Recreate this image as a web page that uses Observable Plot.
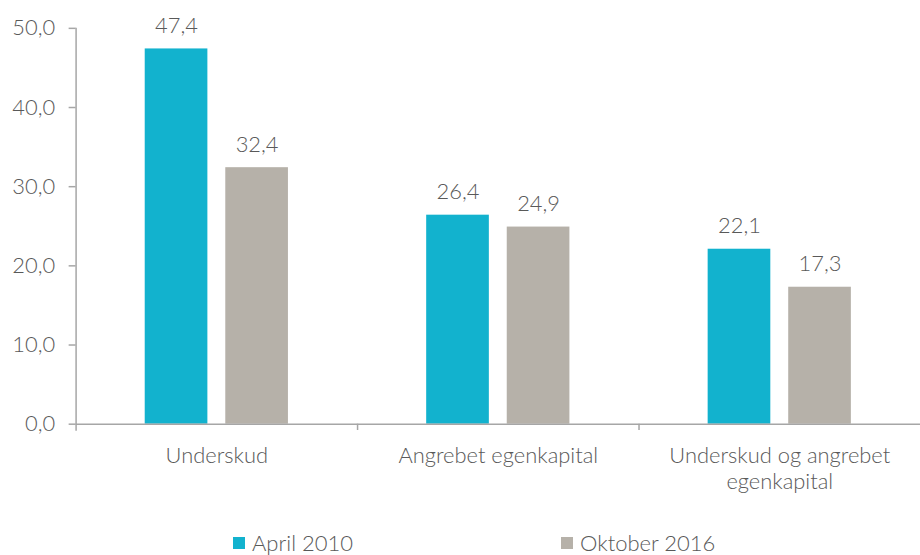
<!DOCTYPE html>
<html>
<head>
<meta charset="utf-8">
<script src="https://cdn.jsdelivr.net/npm/d3@7"></script>
<script src="https://cdn.jsdelivr.net/npm/@observablehq/plot@0.6"></script>
<style>
  html, body { margin: 0; background: #fff; overflow: hidden; }
  body { font-family: Lato, "Open Sans", sans-serif; font-weight: 300; color: #595959; }
  #wrap { position: relative; width: 920px; height: 555px; overflow: hidden; }
  #legend { position: absolute; top: 529px; left: 0; width: 920px; height: 28px; font-size: 22px; }
  .item { position: absolute; top: 0; display: flex; align-items: center; white-space: nowrap; }
  .sw { width: 12px; height: 12px; margin-right: 7px; }
  svg text { font-weight: 300; }
</style>
</head>
<body>
<div id="wrap">
  <div id="chart"></div>
  <div id="legend"></div>
</div>
<script>
const groups = ["Underskud", "Angrebet egenkapital", "Underskud og angrebet egenkapital"];
const groupLabels = ["Underskud", "Angrebet egenkapital", "Underskud og angrebet\negenkapital"];
const seriesNames = ["April 2010", "Oktober 2016"];
const april2010 = [47.4, 26.4, 22.1];
const oktober2016 = [32.4, 24.9, 17.3];
const yTicks = [0, 10, 20, 30, 40, 50];
const colors = ["#12B2CE", "#B6B1A9"];

const fmt = d => d.toFixed(1).replace(".", ",");
const dataA = groups.map((g, i) => ({group: g, value: april2010[i]}));
const dataO = groups.map((g, i) => ({group: g, value: oktober2016[i]}));

const W = 925, ML = 76, MR = 0;
const band = (W - ML - MR) / groups.length;
const half = band / 2;
const barW = 63, gap = 18;
const off = (barW + gap) / 2;
const outer = half - barW - gap / 2;
const innerIns = half + gap / 2;
const textStyle = {fontSize: 22, fill: "#595959"};

const chart = Plot.plot({
  width: W,
  height: 510,
  marginLeft: ML,
  marginRight: MR,
  marginTop: 28,
  marginBottom: 84,
  style: {fontFamily: "Lato, 'Open Sans', sans-serif", fontSize: "22px", color: "#595959", background: "#fff"},
  x: {domain: groups, padding: 0},
  y: {domain: [0, 50]},
  marks: [
    Plot.barY(dataA, {x: "group", y: "value", fill: colors[0], insetLeft: outer, insetRight: innerIns}),
    Plot.barY(dataO, {x: "group", y: "value", fill: colors[1], insetLeft: innerIns, insetRight: outer}),
    Plot.text(dataA, {x: "group", y: "value", text: d => fmt(d.value), dx: -off, dy: -16, lineAnchor: "bottom", ...textStyle}),
    Plot.text(dataO, {x: "group", y: "value", text: d => fmt(d.value), dx: off, dy: -16, lineAnchor: "bottom", ...textStyle}),
    Plot.ruleY([0], {stroke: "#A6A6A6", strokeWidth: 1.5}),
    Plot.ruleX([groups[0]], {x: d => d, dx: -half, y1: -0.9, y2: 50, stroke: "#A6A6A6", strokeWidth: 1.5}),
    Plot.ruleX(groups.slice(1), {x: d => d, dx: -half, y1: 0, y2: -0.8, stroke: "#A6A6A6", strokeWidth: 1.5}),
    Plot.axisY({ticks: yTicks, tickFormat: fmt, tickSize: 7, tickPadding: 14, stroke: "#A6A6A6", strokeWidth: 1.5, fill: "#595959", fontSize: 22, label: null}),
    Plot.axisX({tickSize: 0, tickPadding: 21, tickFormat: d => groupLabels[groups.indexOf(d)], fill: "#595959", fontSize: 22, lineHeight: 1.18, label: null})
  ]
});
document.getElementById("chart").appendChild(chart);

const legend = document.getElementById("legend");
const lefts = [233, 561];
seriesNames.forEach((s, i) => {
  const it = document.createElement("div");
  it.className = "item";
  it.style.left = lefts[i] + "px";
  it.innerHTML = `<span class="sw" style="background:${colors[i]}"></span><span>${s}</span>`;
  legend.appendChild(it);
});
</script>
</body>
</html>
